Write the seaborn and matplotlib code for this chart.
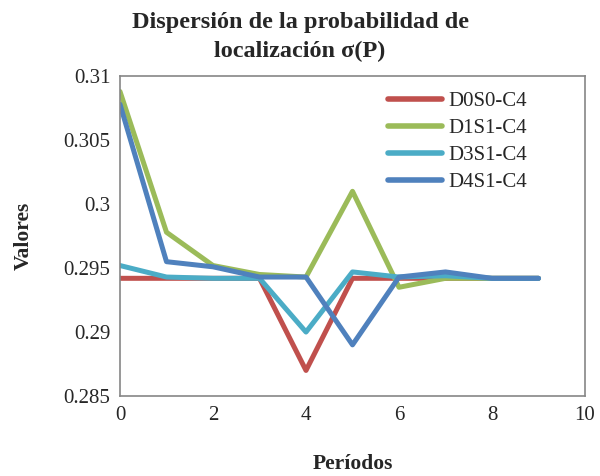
import matplotlib
matplotlib.use("Agg")
import matplotlib.pyplot as plt
import seaborn as sns
import pandas as pd

periods = [0, 1, 2, 3, 4, 5, 6, 7, 8, 9]
series_names = ["D0S0-C4", "D1S1-C4", "D3S1-C4", "D4S1-C4"]
d0s0 = [0.2942, 0.2942, 0.2942, 0.2942, 0.2870, 0.2942, 0.2942, 0.2942, 0.2942, 0.2942]
d1s1 = [0.3088, 0.2978, 0.2952, 0.2945, 0.2943, 0.3010, 0.2935, 0.2942, 0.2942, 0.2942]
d3s1 = [0.2952, 0.2943, 0.2942, 0.2942, 0.2900, 0.2947, 0.2943, 0.2944, 0.2942, 0.2942]
d4s1 = [0.3078, 0.2955, 0.2951, 0.2943, 0.2943, 0.2890, 0.2943, 0.2947, 0.2942, 0.2942]
colors = ["#C0504D", "#9BBB59", "#4BACC6", "#4F81BD"]
xticks = [0, 2, 4, 6, 8, 10]
yticks = [0.285, 0.29, 0.295, 0.3, 0.305, 0.31]
ytick_labels = ["0.285", "0.29", "0.295", "0.3", "0.305", "0.31"]

rows = []
for name, vals in zip(series_names, [d0s0, d1s1, d3s1, d4s1]):
    for p, v in zip(periods, vals):
        rows.append({"Periodo": p, "Valor": v, "Serie": name})
df = pd.DataFrame(rows)

sns.set_style("white")
plt.rcParams['font.family'] = ['Liberation Serif', 'DejaVu Serif']

fig = plt.figure(figsize=(6.0, 4.76), dpi=100)
ax = fig.add_axes([0.2, 0.168, 0.775, 0.672])
sns.lineplot(data=df, x="Periodo", y="Valor", hue="Serie", palette=colors,
             linewidth=3.6, ax=ax, legend=True)

ax.set_xlim(0, 10)
ax.set_ylim(0.285, 0.31)
ax.set_xticks(xticks)
ax.set_xticklabels([str(t) for t in xticks])
ax.set_yticks(yticks)
ax.set_yticklabels(ytick_labels)
ax.tick_params(direction="in", length=5, color="#868686", labelsize=15, pad=7)
for s in ax.spines.values():
    s.set_color("#868686")
    s.set_linewidth(1.2)

ax.set_xlabel("Períodos", fontsize=15.5, fontweight="bold", labelpad=21)
ax.set_ylabel("Valores", fontsize=15.5, fontweight="bold", labelpad=21)
fig.suptitle("Dispersión de la probabilidad de\nlocalización σ(P)", fontsize=17.5,
             fontweight="bold", y=0.975, linespacing=1.5)

leg = ax.legend(loc="upper right", bbox_to_anchor=(0.915, 1.01), frameon=False,
                fontsize=15, handlelength=2.6, labelspacing=0.35, handletextpad=0.3)
for line in leg.get_lines():
    line.set_linewidth(4)

fig.savefig("out.png", dpi=100)
